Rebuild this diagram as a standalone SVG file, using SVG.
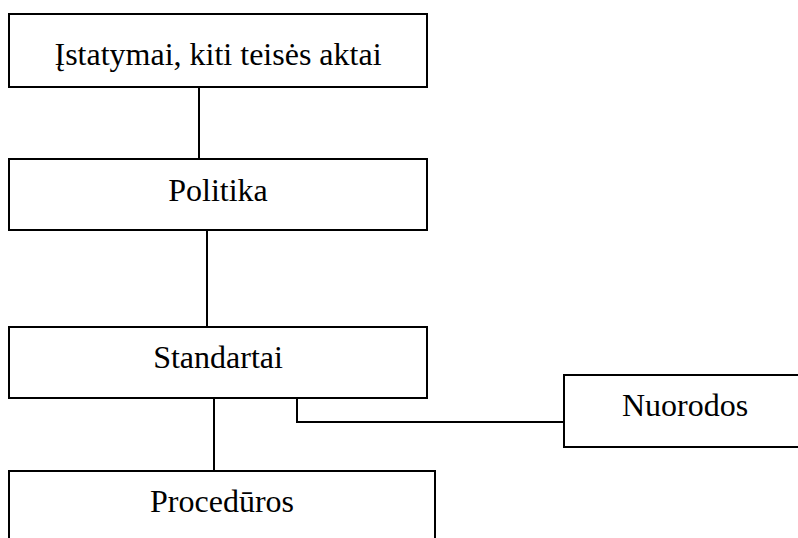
<svg xmlns="http://www.w3.org/2000/svg" width="798" height="538" viewBox="0 0 798 538">
  <style>
    .box { fill: #ffffff; stroke: #000000; stroke-width: 2; }
    .link { fill: none; stroke: #000000; stroke-width: 2; }
    .label { font-family: "Liberation Serif", "Times New Roman", serif; font-size: 32px; fill: #000000; text-anchor: middle; }
  </style>
  <rect x="0" y="0" width="798" height="538" fill="#ffffff"/>
  <g id="connectors">
    <line class="link" x1="199" y1="87" x2="199" y2="159"/>
    <line class="link" x1="207" y1="230" x2="207" y2="327"/>
    <line class="link" x1="214" y1="398" x2="214" y2="471"/>
    <polyline class="link" points="297,398 297,422 564,422"/>
  </g>
  <g id="istatymai">
    <rect class="box" x="9" y="14" width="418" height="73"/>
    <text class="label" x="218" y="65">Įstatymai, kiti teisės aktai</text>
  </g>
  <g id="politika">
    <rect class="box" x="9" y="159" width="418" height="71"/>
    <text class="label" x="218" y="201">Politika</text>
  </g>
  <g id="standartai">
    <rect class="box" x="9" y="327" width="418" height="71"/>
    <text class="label" x="218" y="368">Standartai</text>
  </g>
  <g id="nuorodos">
    <rect class="box" x="564" y="375" width="250" height="72"/>
    <text class="label" x="685" y="416">Nuorodos</text>
  </g>
  <g id="proceduros">
    <rect class="box" x="9" y="471" width="426" height="80"/>
    <text class="label" x="222" y="512">Procedūros</text>
  </g>
</svg>
